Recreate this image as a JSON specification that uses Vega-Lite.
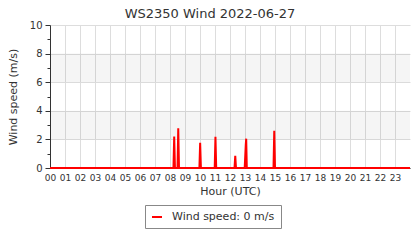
{
  "$schema": "https://vega.github.io/schema/vega-lite/v6.json",
  "width": 360,
  "height": 143,
  "autosize": "none",
  "padding": {"left": 50, "top": 25, "right": 9, "bottom": 72},
  "background": "white",
  "config": {
    "font": "DejaVu Sans",
    "view": {"stroke": null},
    "axis": {"labelColor": "#333", "titleColor": "#333", "titleFontWeight": "normal", "domainColor": "#333", "tickColor": "#333", "gridColor": "#dddddd"}
  },
  "title": {
    "text": "WS2350 Wind 2022-06-27",
    "fontSize": 13,
    "fontWeight": "normal",
    "color": "#333",
    "baseline": "alphabetic",
    "offset": 10,
    "dx": -20,
    "dy": 21
  },
  "layer": [
    {
      "data": {"values": [{"y0": 2, "y1": 4}, {"y0": 6, "y1": 8}]},
      "mark": {"type": "rect", "color": "#000000", "opacity": 0.04},
      "encoding": {
        "y": {"field": "y0", "type": "quantitative", "scale": {"domain": [0, 10], "nice": false},
          "axis": {
            "values": [0, 1, 2, 3, 4, 5, 6, 7, 8, 9, 10],
            "labelExpr": "datum.value % 2 === 0 ? datum.label : ''",
            "labelFontSize": 10,
            "labelPadding": 3,
            "labelOverlap": false,
            "labelFlush": false,
            "tickSize": {"condition": {"test": "datum.value % 2 === 0", "value": 5}, "value": 3},
            "gridOpacity": {"condition": {"test": "datum.value % 2 === 0", "value": 1}, "value": 0},
            "title": "Wind speed (m/s)",
            "titleFontSize": 11,
            "titlePadding": 11
          }
        },
        "y2": {"field": "y1"}
      }
    },
    {
      "data": {"values": [
        {"hour": 0, "speed": 0, "series": "Wind speed: 0 m/s"},
        {"hour": 8.23, "speed": 0, "series": "Wind speed: 0 m/s"},
        {"hour": 8.28, "speed": 2.2, "series": "Wind speed: 0 m/s"},
        {"hour": 8.33, "speed": 0, "series": "Wind speed: 0 m/s"},
        {"hour": 8.5, "speed": 0, "series": "Wind speed: 0 m/s"},
        {"hour": 8.55, "speed": 2.77, "series": "Wind speed: 0 m/s"},
        {"hour": 8.6, "speed": 0, "series": "Wind speed: 0 m/s"},
        {"hour": 9.96, "speed": 0, "series": "Wind speed: 0 m/s"},
        {"hour": 10.01, "speed": 1.77, "series": "Wind speed: 0 m/s"},
        {"hour": 10.06, "speed": 0, "series": "Wind speed: 0 m/s"},
        {"hour": 10.98, "speed": 0, "series": "Wind speed: 0 m/s"},
        {"hour": 11.03, "speed": 2.19, "series": "Wind speed: 0 m/s"},
        {"hour": 11.08, "speed": 0, "series": "Wind speed: 0 m/s"},
        {"hour": 12.3, "speed": 0, "series": "Wind speed: 0 m/s"},
        {"hour": 12.35, "speed": 0.86, "series": "Wind speed: 0 m/s"},
        {"hour": 12.4, "speed": 0, "series": "Wind speed: 0 m/s"},
        {"hour": 12.98, "speed": 0, "series": "Wind speed: 0 m/s"},
        {"hour": 13.05, "speed": 1.6, "series": "Wind speed: 0 m/s"},
        {"hour": 13.08, "speed": 2.05, "series": "Wind speed: 0 m/s"},
        {"hour": 13.12, "speed": 0, "series": "Wind speed: 0 m/s"},
        {"hour": 14.9, "speed": 0, "series": "Wind speed: 0 m/s"},
        {"hour": 14.95, "speed": 2.61, "series": "Wind speed: 0 m/s"},
        {"hour": 15.0, "speed": 0, "series": "Wind speed: 0 m/s"},
        {"hour": 24, "speed": 0, "series": "Wind speed: 0 m/s"}
      ]},
      "mark": {"type": "line", "strokeWidth": 2, "interpolate": "linear"},
      "encoding": {
        "x": {"field": "hour", "type": "quantitative", "scale": {"domain": [0, 24], "nice": false},
          "axis": {
            "values": [0, 1, 2, 3, 4, 5, 6, 7, 8, 9, 10, 11, 12, 13, 14, 15, 16, 17, 18, 19, 20, 21, 22, 23],
            "labelExpr": "datum.value < 10 ? '0' + datum.value : '' + datum.value",
            "labelFontSize": 9,
            "labelPadding": 5,
            "ticks": false,
            "labelFlush": false,
            "labelOverlap": false,
            "title": "Hour (UTC)",
            "titleFontSize": 11,
            "titlePadding": 3
          }
        },
        "y": {"field": "speed", "type": "quantitative", "scale": {"domain": [0, 10], "nice": false},
          "axis": {
            "values": [0, 1, 2, 3, 4, 5, 6, 7, 8, 9, 10],
            "labelExpr": "datum.value % 2 === 0 ? datum.label : ''",
            "labelFontSize": 10,
            "labelPadding": 3,
            "labelOverlap": false,
            "labelFlush": false,
            "tickSize": {"condition": {"test": "datum.value % 2 === 0", "value": 5}, "value": 3},
            "gridOpacity": {"condition": {"test": "datum.value % 2 === 0", "value": 1}, "value": 0},
            "title": "Wind speed (m/s)",
            "titleFontSize": 11,
            "titlePadding": 11
          }
        },
        "color": {"field": "series", "type": "nominal",
          "scale": {"domain": ["Wind speed: 0 m/s"], "range": ["#ff0000"]},
          "legend": {
            "orient": "none",
            "legendX": 95,
            "legendY": 180,
            "title": null,
            "symbolType": "stroke",
            "symbolStrokeWidth": 2,
            "symbolSize": 100,
            "labelFontSize": 11,
            "labelColor": "#333",
            "labelOffset": 9,
            "padding": 6,
            "strokeColor": "#888",
            "fillColor": "white"
          }
        }
      }
    }
  ]
}
